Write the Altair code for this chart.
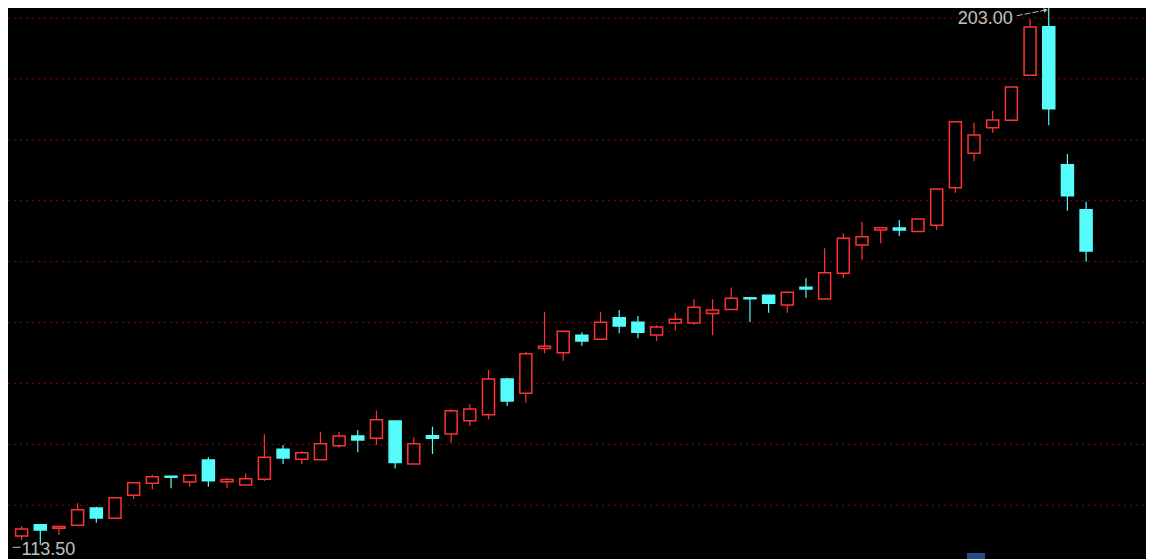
import altair as alt
import pandas as pd

# ---- data ----
opens = [114.94, 116.80, 116.20, 116.70, 119.54, 117.85, 121.63, 123.60, 124.75, 123.81,
         127.42, 123.85, 123.32, 124.25, 129.18, 127.54, 127.47, 129.77, 131.36, 130.99,
         133.83, 126.77, 131.41, 131.69, 133.88, 134.86, 140.72, 138.37, 145.75, 145.04,
         147.90, 147.24, 150.79, 150.03, 147.95, 149.92, 149.92, 151.48, 152.13, 154.05,
         154.47, 152.87, 155.78, 153.86, 158.08, 162.73, 165.20, 165.50, 164.94, 165.96,
         172.13, 177.78, 181.99, 183.20, 190.59, 198.57, 175.91, 168.52]
highs = [116.58, 116.80, 116.60, 120.31, 119.75, 121.23, 123.69, 125.01, 124.75, 125.00,
         127.87, 124.47, 125.24, 131.64, 129.89, 128.90, 132.07, 132.07, 132.35, 135.52,
         133.83, 131.15, 132.89, 135.80, 136.57, 142.20, 140.94, 145.21, 151.77, 148.56,
         148.39, 151.77, 152.05, 151.07, 149.54, 151.61, 153.81, 153.81, 155.75, 154.05,
         154.47, 154.96, 157.26, 162.18, 164.65, 166.55, 165.57, 166.83, 167.00, 171.92,
         182.97, 182.81, 184.78, 188.67, 199.84, 203.00, 177.67, 169.84]
lows = [114.29, 113.50, 115.11, 116.70, 117.13, 117.85, 121.02, 122.61, 122.78, 123.04,
        123.04, 122.78, 123.32, 123.97, 126.77, 126.77, 127.47, 129.44, 128.69, 129.89,
        126.03, 126.77, 128.41, 130.16, 133.05, 134.10, 136.29, 136.83, 144.94, 143.73,
        146.19, 147.24, 148.23, 147.41, 146.96, 148.65, 149.64, 147.90, 152.13, 150.08,
        151.61, 151.61, 154.07, 153.86, 157.26, 160.26, 163.00, 164.20, 164.94, 165.19,
        171.31, 176.52, 181.17, 183.20, 190.59, 182.38, 168.36, 159.98]
closes = [116.09, 115.93, 116.50, 119.26, 117.90, 121.23, 123.69, 124.68, 124.60, 124.91,
          124.02, 124.20, 124.35, 127.87, 127.75, 128.62, 130.10, 131.36, 130.71, 134.04,
          127.01, 130.10, 130.99, 135.52, 135.80, 140.72, 137.11, 144.88, 146.10, 148.56,
          146.96, 150.03, 149.43, 148.39, 149.26, 150.53, 152.50, 152.05, 153.97, 153.90,
          153.15, 154.96, 155.50, 158.18, 163.83, 164.09, 165.55, 165.20, 167.00, 171.92,
          182.97, 180.79, 183.25, 188.67, 198.52, 185.11, 170.82, 161.74]
grid_prices = [120, 130, 140, 150, 160, 170, 180, 190, 200]

RED = "#ff3232"
CYAN = "#54fcfc"
GRID = "#8c0000"
LABEL = "#c0c0c0"
FONT = "Liberation Sans, Arial, sans-serif"

W, H = 1138, 551

idx = list(range(1, len(opens) + 1))
df = pd.DataFrame({"i": idx, "open": opens, "high": highs, "low": lows, "close": closes})
df["dir"] = ["down" if c < o else "up" for o, c in zip(opens, closes)]
df["blo"] = df[["open", "close"]].min(axis=1)
df["bhi"] = df[["open", "close"]].max(axis=1)

xscale = alt.Scale(domain=[0.5382, 60.94], nice=False, zero=False)
yscale = alt.Scale(domain=[111.166, 201.642], nice=False, zero=False)

base = alt.Chart(df)

grid = alt.Chart(pd.DataFrame({"p": grid_prices})).mark_rule(
    color=GRID, strokeWidth=1, strokeDash=[2, 4]
).encode(
    y=alt.Y("p:Q", scale=yscale, axis=None),
    x=alt.value(0), x2=alt.value(W),
)

wick = base.mark_rule(strokeWidth=1.2).encode(
    x=alt.X("i:Q", scale=xscale, axis=None),
    y=alt.Y("low:Q", scale=yscale, axis=None),
    y2="high:Q",
    color=alt.Color("dir:N", scale=alt.Scale(domain=["up", "down"], range=[RED, CYAN]), legend=None),
)

body = base.mark_bar(size=12, strokeWidth=1.5).encode(
    x=alt.X("i:Q", scale=xscale, axis=None),
    y=alt.Y("blo:Q", scale=yscale, axis=None),
    y2="bhi:Q",
    fill=alt.Fill("dir:N", scale=alt.Scale(domain=["up", "down"], range=["#000000", CYAN]), legend=None),
    stroke=alt.Stroke("dir:N", scale=alt.Scale(domain=["up", "down"], range=[RED, CYAN]), legend=None),
)

# annotations: min low and max high
hi_i = highs.index(max(highs)) + 1
lo_df = pd.DataFrame({"i": [1], "p": [min(lows)], "t": [f"{min(lows):.2f}"]})
hi_df = pd.DataFrame({"i": [hi_i], "p": [max(highs)], "t": [f"{max(highs):.2f}"]})

lo_text = alt.Chart(lo_df).mark_text(
    align="left", baseline="alphabetic", font=FONT, fontSize=18, color=LABEL, dy=10
).encode(x=alt.X("i:Q", scale=xscale, axis=None), y=alt.Y("p:Q", scale=yscale, axis=None), text="t:N")

lo_arrow = alt.Chart(lo_df).mark_rule(
    color=LABEL, strokeWidth=1, xOffset=-9, x2Offset=-1, yOffset=2.5, y2Offset=2.5
).encode(x=alt.X("i:Q", scale=xscale, axis=None), x2="i:Q",
         y=alt.Y("p:Q", scale=yscale, axis=None), y2="p:Q")

hi_text = alt.Chart(hi_df).mark_text(
    align="right", baseline="alphabetic", font=FONT, fontSize=18, color=LABEL, dx=-36, dy=24.5
).encode(x=alt.X("i:Q", scale=xscale, axis=None), y=alt.Y("p:Q", scale=yscale, axis=None), text="t:N")

hi_arrow = alt.Chart(hi_df).mark_rule(
    color=LABEL, strokeWidth=1, strokeDash=[6, 2],
    xOffset=-32, x2Offset=-4, yOffset=16, y2Offset=10.5
).encode(x=alt.X("i:Q", scale=xscale, axis=None), x2="i:Q",
         y=alt.Y("p:Q", scale=yscale, axis=None), y2="p:Q")

hi_head = alt.Chart(hi_df).mark_point(
    shape="triangle-right", size=22, filled=True, color=LABEL, angle=349,
    xOffset=-3, yOffset=10.3, opacity=1
).encode(x=alt.X("i:Q", scale=xscale, axis=None), y=alt.Y("p:Q", scale=yscale, axis=None))

icon = alt.Chart(pd.DataFrame({"k": [0]})).mark_rect(color="#1f4e8c").encode(
    x=alt.value(959), x2=alt.value(977), y=alt.value(545), y2=alt.value(551)
)

chart = alt.layer(grid, wick, body, lo_arrow, lo_text, hi_arrow, hi_head, hi_text, icon).properties(
    width=W, height=H, padding=0, background="#000000",
    autosize=alt.AutoSizeParams(type="none"),
).configure_view(strokeWidth=0)

chart.save("out.html", embed_options={"renderer": "svg", "actions": False})
